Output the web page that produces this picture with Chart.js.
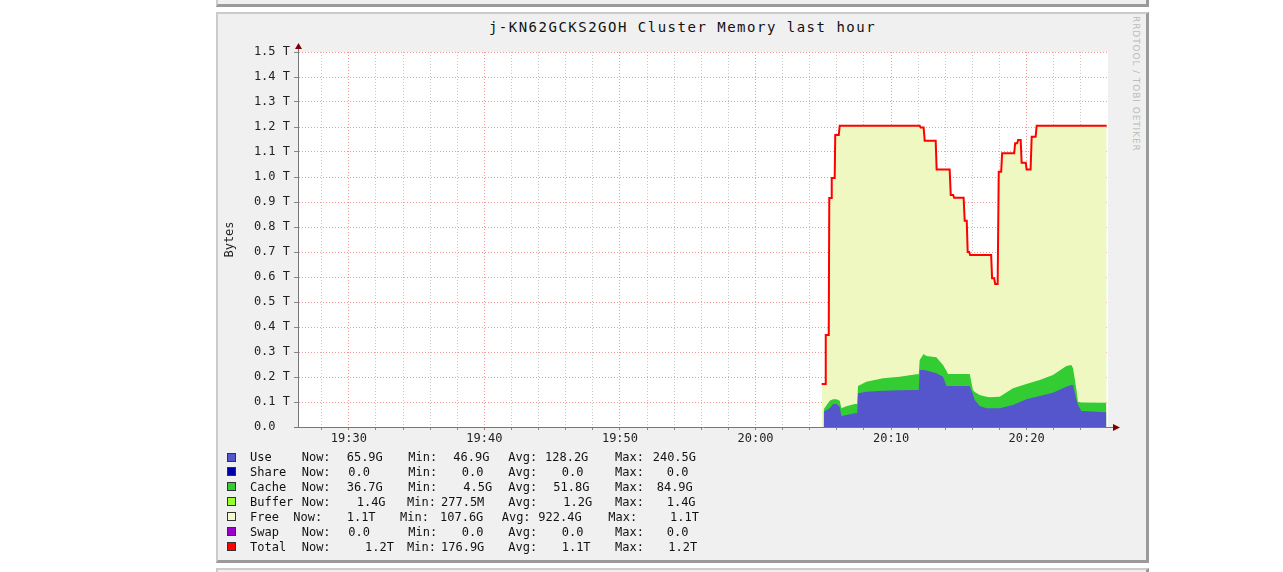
<!DOCTYPE html>
<html><head><meta charset="utf-8">
<script src="https://cdn.jsdelivr.net/npm/chart.js@4.4.0/dist/chart.umd.min.js"></script>
<style>
html,body{margin:0;padding:0;background:#fff;width:1283px;height:572px;overflow:hidden;position:relative;font-family:'DejaVu Sans Mono',monospace;}
.panel{position:absolute;box-sizing:border-box;background:#f0f0f0;border-top:2px solid #cbcbcb;border-left:2px solid #cbcbcb;border-right:3px solid #9a9a9a;border-bottom:3px solid #9a9a9a;}
#chart{position:absolute;left:216px;top:12px;}
.title{position:absolute;left:216px;width:933px;top:20px;text-align:center;font-size:14px;line-height:14px;letter-spacing:1.5px;color:#111;white-space:pre;}
.lg{position:absolute;font-size:12px;line-height:12px;color:#111;white-space:pre;}
.sw{position:absolute;width:9px;height:9px;box-sizing:border-box;border:1px solid #333;}
.wm{position:absolute;left:1131px;top:16px;writing-mode:vertical-rl;font-family:'DejaVu Sans',sans-serif;font-size:9px;color:#bbb;letter-spacing:0.9px;}
</style></head><body>
<div class="panel" style="left:216px;top:-30px;width:933px;height:37px"></div>
<div class="panel" style="left:216px;top:12px;width:933px;height:551px"></div>
<div class="panel" style="left:216px;top:568px;width:933px;height:40px"></div>
<div class="title">j-KN62GCKS2GOH Cluster Memory last hour</div>
<div class="wm">RRDTOOL / TOBI OETIKER</div>
<canvas id="chart" width="933" height="551"></canvas>
<div id="legend"></div>
<script>
// ---- data (time in minutes after 19:00, values in TB) ----
const totalTimes = [64.88,65.14,65.18,65.40,65.44,65.58,65.62,65.84,65.88,66.14,66.21,72.11,72.18,72.40,72.48,73.29,73.36,74.32,74.40,74.58,74.65,75.35,75.43,75.58,75.65,75.76,75.83,77.38,77.45,77.60,77.68,77.86,77.94,78.12,78.19,79.08,79.15,79.30,79.37,79.56,79.63,79.93,80.00,80.29,80.37,80.66,80.74,85.90];
const totalValues = [0.172,0.172,0.368,0.368,0.916,0.916,0.996,0.996,1.168,1.168,1.205,1.205,1.198,1.198,1.145,1.145,1.03,1.03,0.928,0.928,0.917,0.917,0.825,0.825,0.70,0.70,0.688,0.688,0.595,0.595,0.572,0.572,1.021,1.021,1.095,1.095,1.135,1.135,1.148,1.148,1.057,1.057,1.03,1.03,1.161,1.161,1.205,1.205];
const memTimes = [65.03,65.47,65.72,65.97,66.21,66.33,66.70,67.32,67.50,67.56,68.18,69.40,70.63,71.87,72.04,72.11,72.40,72.60,73.34,73.83,74.08,74.20,75.80,76.04,76.17,76.53,77.03,77.27,78.01,78.99,79.98,80.96,81.94,82.93,83.30,83.42,83.67,83.78,84.03,85.88];
const useValues = [0.061,0.075,0.092,0.092,0.081,0.044,0.048,0.055,0.055,0.135,0.141,0.145,0.147,0.148,0.148,0.228,0.228,0.226,0.215,0.201,0.164,0.164,0.164,0.130,0.108,0.084,0.075,0.075,0.075,0.088,0.111,0.124,0.137,0.161,0.168,0.168,0.108,0.090,0.064,0.059];
const cacheValues = [0.010,0.030,0.019,0.019,0.024,0.031,0.035,0.037,0.037,0.029,0.040,0.050,0.054,0.063,0.063,0.040,0.064,0.058,0.064,0.047,0.061,0.048,0.048,0.018,0.032,0.044,0.046,0.044,0.046,0.067,0.061,0.064,0.071,0.083,0.080,0.067,0.042,0.011,0.034,0.038];
const xTickValues = [30,40,50,60,70,80];
const xTickLabels = ['19:30','19:40','19:50','20:00','20:10','20:20'];
const yTickValues = [0,0.1,0.2,0.3,0.4,0.5,0.6,0.7,0.8,0.9,1.0,1.1,1.2,1.3,1.4,1.5];
const yTickLabels = ['0.0','0.1 T','0.2 T','0.3 T','0.4 T','0.5 T','0.6 T','0.7 T','0.8 T','0.9 T','1.0 T','1.1 T','1.2 T','1.3 T','1.4 T','1.5 T'];
const legendNames = ['Use','Share','Cache','Buffer','Free','Swap','Total'];
const legendNow = ['65.9G','0.0','36.7G','1.4G','1.1T','0.0','1.2T'];
const legendMin = ['46.9G','0.0','4.5G','277.5M','107.6G','0.0','176.9G'];
const legendAvg = ['128.2G','0.0','51.8G','1.2G','922.4G','0.0','1.1T'];
const legendMax = ['240.5G','0.0','84.9G','1.4G','1.1T','0.0','1.2T'];

// ---- styles ----
const COL = {Use:'#5555cc',Share:'#0000aa',Cache:'#33cc33',Buffer:'#99ff33',Free:'#eef8c0',Swap:'#9900cc',Total:'#ff0000'};
const LEGCOL = {Use:'#5555cc',Share:'#0000aa',Cache:'#33cc33',Buffer:'#99ff33',Free:'#f6f8d2',Swap:'#9900cc',Total:'#ff0000'};
const xMin = 26.25, xMax = 86.0;
const FONT = 'DejaVu Sans Mono';
Chart.defaults.font.family = FONT;

const pts = (ts, vs) => ts.map((t,i)=>({x:t,y:vs[i]}));
const cacheTop = useValues.map((u,i)=>u+cacheValues[i]);

const minorX = []; for (let m=28; m<=84; m+=2) minorX.push(m);

const bgPlugin = {id:'bg', beforeDraw(c){const a=c.chartArea,x=c.ctx;x.save();x.fillStyle='#fff';x.fillRect(a.left,a.top,a.right-a.left,a.bottom-a.top);x.restore();}};
const arrowPlugin = {id:'arrows', afterDraw(c){
  const a=c.chartArea,x=c.ctx; x.save();
  x.strokeStyle='#777'; x.lineWidth=1;
  x.beginPath(); x.moveTo(a.left+0.5,a.top); x.lineTo(a.left+0.5,a.top-5); x.stroke();
  x.beginPath(); x.moveTo(a.right,a.bottom+0.5); x.lineTo(a.right+5,a.bottom+0.5); x.stroke();
  x.beginPath(); x.moveTo(a.left-4,a.bottom+0.5); x.lineTo(a.left,a.bottom+0.5); x.stroke();
  x.fillStyle='#800000';
  x.beginPath(); x.moveTo(a.left+0.5,a.top-9); x.lineTo(a.left-3,a.top-3); x.lineTo(a.left+4,a.top-3); x.closePath(); x.fill();
  x.beginPath(); x.moveTo(a.right+12,a.bottom+0.5); x.lineTo(a.right+5,a.bottom-3); x.lineTo(a.right+5,a.bottom+4); x.closePath(); x.fill();
  x.restore();
}};

const areaDs = (label, data, color) => ({label, data, backgroundColor:color, borderColor:'rgba(0,0,0,0)', borderWidth:0, fill:'origin', pointRadius:0, tension:0});

new Chart(document.getElementById('chart'), {
  type:'line',
  data:{datasets:[
    {label:'Total', data:pts(totalTimes,totalValues), borderColor:COL.Total, borderWidth:2, fill:false, pointRadius:0, tension:0},
    areaDs('Use', pts(memTimes,useValues), COL.Use),
    areaDs('Cache', pts(memTimes,cacheTop), COL.Cache),
    areaDs('Free', pts(totalTimes,totalValues), COL.Free)
  ]},
  options:{
    responsive:false, animation:false, devicePixelRatio:1,
    layout:{padding:{left:0,top:40,right:41,bottom:106}},
    plugins:{legend:{display:false},tooltip:{enabled:false},title:{display:false}},
    scales:{
      x:{type:'linear',min:xMin,max:xMax,
        afterFit(s){s.height=30;},
        afterBuildTicks(s){s.ticks=minorX.map(v=>({value:v}));},
        ticks:{autoSkip:false,maxRotation:0,minRotation:0,padding:2,color:'#222',font:{size:12},
          callback(v){const i=xTickValues.indexOf(v);return i>=0?xTickLabels[i]:'';}},
        grid:{color(c){return (c.tick && c.tick.value%10===0)?'rgba(240,120,120,0.75)':'rgba(150,150,150,0.55)';},tickLength:3,tickColor:'#888'},
        border:{display:true,color:'#777',dash:[1,2]}
      },
      y:{min:0,max:1.5,
        afterFit(s){s.width=82;},
        afterBuildTicks(s){s.ticks=yTickValues.map(v=>({value:v}));},
        ticks:{autoSkip:false,padding:4,color:'#222',font:{size:12},
          callback(v,i){const l=yTickLabels[i];return l.indexOf('T')<0?l+'  ':l;}},
        grid:{color:'rgba(240,120,120,0.75)',tickLength:4,tickColor:'#888'},
        border:{display:true,color:'#777',dash:[1,2]},
        title:{display:true,text:'Bytes',color:'#222',font:{size:12},padding:{top:7,bottom:0}}
      }
    }
  },
  plugins:[bgPlugin,arrowPlugin]
});

// ---- legend (HTML text) ----
const legX = [
  [250,301.7,346.7,408.3,453.3,508.3,545,615,652.7],
  [250,301.7,348.3,408.3,461.7,508.3,561.7,615,666.7],
  [250,301.7,346.7,408.3,463.3,508.3,553.3,615,656.7],
  [250,301.7,356.7,407,441,508.3,563.3,615,666.7],
  [250,293.3,346.7,400,440,501.7,538.3,608.3,670],
  [250,301.7,348.3,408.3,461.7,508.3,561.7,615,666.7],
  [250,301.7,365,407,441,508.3,561.7,615,668.3]
];
const lg = document.getElementById('legend');
legendNames.forEach((n,r)=>{
  const yc = 457 + r*14.9;
  const sw = document.createElement('div'); sw.className='sw';
  sw.style.left='227px'; sw.style.top=(yc-4.5)+'px'; sw.style.background=LEGCOL[n]; lg.appendChild(sw);
  const parts=[n,'Now:',legendNow[r],'Min:',legendMin[r],'Avg:',legendAvg[r],'Max:',legendMax[r]];
  parts.forEach((p,k)=>{const d=document.createElement('div');d.className='lg';d.textContent=p;d.style.left=legX[r][k]+'px';d.style.top=(yc-5.8)+'px';lg.appendChild(d);});
});
</script>
</body></html>
